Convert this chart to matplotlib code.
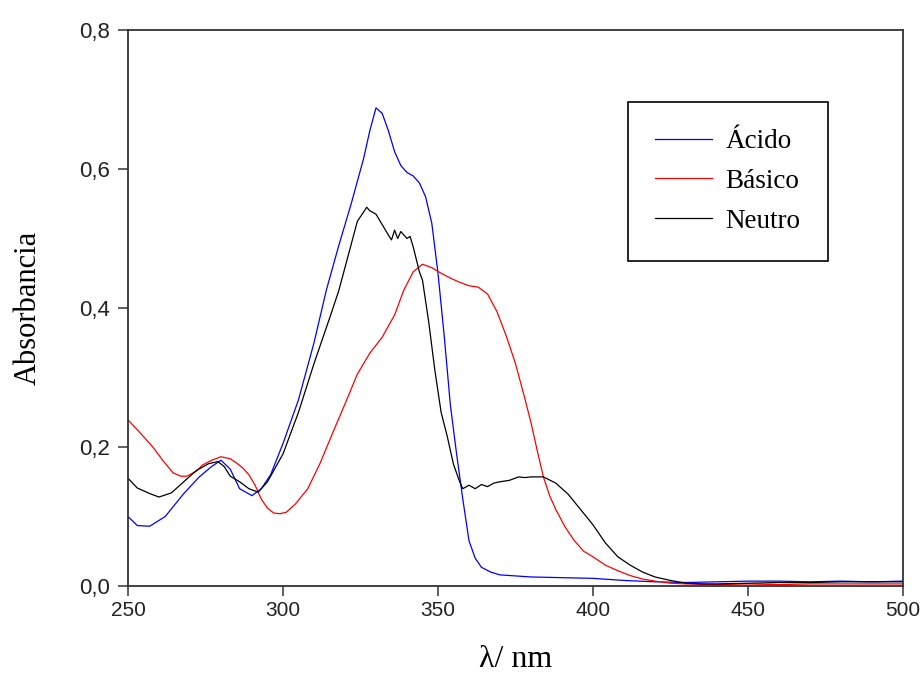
import matplotlib
matplotlib.use("Agg")
import matplotlib.pyplot as plt

# Acid
wl_acid = [250, 253, 257, 262, 268, 273, 277, 280, 283, 286, 290, 293, 296, 300, 305,
           310, 314, 318, 322, 326, 328, 330, 332, 334, 336, 338, 340, 342, 344, 346,
           348, 350, 352, 354, 356, 358, 360, 362, 364, 367, 370, 380, 390, 400, 410,
           420, 430, 440, 450, 460, 470, 480, 490, 500]
abs_acid = [0.100, 0.087, 0.086, 0.100, 0.133, 0.157, 0.172, 0.181, 0.168, 0.140, 0.130,
            0.140, 0.160, 0.205, 0.268, 0.350, 0.426, 0.490, 0.550, 0.615, 0.655, 0.688,
            0.680, 0.655, 0.625, 0.605, 0.595, 0.590, 0.580, 0.560, 0.522, 0.450, 0.360,
            0.260, 0.190, 0.125, 0.065, 0.040, 0.027, 0.020, 0.016, 0.013, 0.012, 0.011,
            0.008, 0.006, 0.005, 0.006, 0.007, 0.007, 0.006, 0.007, 0.006, 0.007]

# Basic
wl_bas = [250, 254, 258, 261, 264.5, 267, 269, 272, 274, 277, 280, 283, 285, 287, 289,
          291, 293, 295, 297, 299, 301, 304, 308, 312, 316, 320, 324, 328, 332, 336,
          339, 342, 345, 348, 351, 354, 357, 360, 363, 366, 369, 372, 375, 378, 380,
          382, 384, 386, 388, 391, 394, 397, 400, 404, 408, 412, 416, 420, 425, 430,
          440, 450, 460, 470, 480, 490, 500]
abs_bas = [0.239, 0.220, 0.200, 0.182, 0.163, 0.158, 0.158, 0.165, 0.174, 0.181, 0.186,
           0.183, 0.177, 0.170, 0.160, 0.145, 0.125, 0.112, 0.105, 0.104, 0.106, 0.118,
           0.140, 0.177, 0.220, 0.262, 0.305, 0.335, 0.358, 0.390, 0.426, 0.452, 0.463,
           0.458, 0.450, 0.443, 0.437, 0.432, 0.430, 0.420, 0.395, 0.360, 0.320, 0.270,
           0.235, 0.195, 0.157, 0.130, 0.110, 0.085, 0.065, 0.050, 0.042, 0.030, 0.022,
           0.015, 0.010, 0.007, 0.004, 0.003, 0.002, 0.003, 0.002, 0.003, 0.003, 0.003,
           0.003]

# Neutral
wl_neu = [250, 253, 257, 260, 264, 268, 272, 276, 279, 281, 283, 286, 289, 292, 295,
          300, 305, 310, 315, 318, 321, 324, 326, 327, 328, 330, 332, 334, 335, 336,
          337, 338, 339, 340, 341, 342, 343, 344, 345, 347, 349, 351, 353, 355, 357,
          358, 360, 362, 364, 366, 368, 370, 373, 376, 378, 380, 384, 388, 392, 396,
          400, 404, 408, 412, 416, 420, 425, 430, 435, 440, 450, 460, 470, 480, 490,
          500]
abs_neu = [0.155, 0.141, 0.133, 0.128, 0.134, 0.150, 0.166, 0.176, 0.179, 0.172, 0.158,
           0.150, 0.140, 0.135, 0.150, 0.190, 0.250, 0.320, 0.385, 0.425, 0.475, 0.525,
           0.538, 0.545, 0.540, 0.535, 0.520, 0.505, 0.498, 0.512, 0.500, 0.510, 0.505,
           0.500, 0.503, 0.488, 0.470, 0.452, 0.440, 0.380, 0.310, 0.250, 0.215, 0.175,
           0.150, 0.140, 0.145, 0.140, 0.146, 0.143, 0.148, 0.150, 0.152, 0.157, 0.156,
           0.157, 0.157, 0.148, 0.132, 0.110, 0.088, 0.062, 0.042, 0.030, 0.020, 0.013,
           0.008, 0.004, 0.003, 0.003, 0.004, 0.005, 0.005, 0.006, 0.006, 0.006]

xticks = [250, 300, 350, 400, 450, 500]
yticks = [0.0, 0.2, 0.4, 0.6, 0.8]
ytick_labels = ["0,0", "0,2", "0,4", "0,6", "0,8"]

serif = "Liberation Serif"
sans = "Liberation Sans"

fig = plt.figure(figsize=(9.24, 6.76), dpi=100)
ax = fig.add_axes([128/924, 90/676, 775/924, 556/676])

ax.plot(wl_acid, abs_acid, color="#0000ff", lw=0.9, label="Ácido")
ax.plot(wl_bas, abs_bas, color="#ff0000", lw=0.9, label="Básico")
ax.plot(wl_neu, abs_neu, color="black", lw=0.9, label="Neutro")

ax.set_xlim(250, 500)
ax.set_ylim(0, 0.8)
ax.set_xticks(xticks)
ax.set_xticklabels([str(t) for t in xticks], fontfamily=sans, fontsize=15)
ax.set_yticks(yticks)
ax.set_yticklabels(ytick_labels, fontfamily=sans, fontsize=16)
ax.tick_params(direction="out", length=7, width=1.1, color="#333333",
               labelcolor="#222222", pad=4)
ax.tick_params(axis="y", pad=6)
for s in ax.spines.values():
    s.set_linewidth(1.3)
    s.set_color("#333333")

ax.set_ylabel("Absorbancia", fontfamily=serif, fontsize=22, labelpad=26)
ax.set_xlabel("λ/ nm", fontfamily=serif, fontsize=23, labelpad=18)

leg = ax.legend(loc="upper left", bbox_to_anchor=((628-128)/775, (586-102)/556),
                prop={"family": serif, "size": 19.5}, fancybox=False, framealpha=1,
                edgecolor="black", borderaxespad=0, borderpad=1.0,
                handlelength=2.1, handletextpad=0.5, labelspacing=0.55)
leg.get_frame().set_linewidth(1.2)

fig.savefig("out.png", dpi=100)
